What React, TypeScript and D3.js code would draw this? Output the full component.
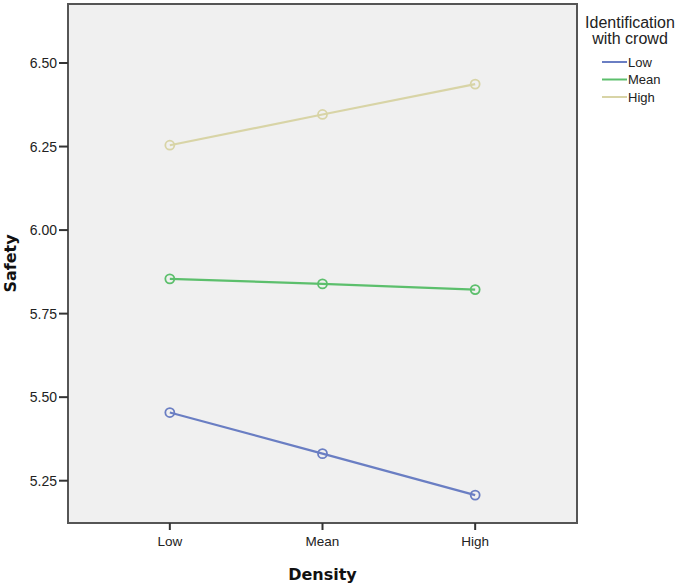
import React from "react";
import * as d3 from "d3";

const categories = ["Low", "Mean", "High"];
const seriesNames = ["Low", "Mean", "High"];
const lowValues = [5.454, 5.331, 5.207];
const meanValues = [5.854, 5.839, 5.822];
const highValues = [6.254, 6.346, 6.437];
const yTicks = [5.25, 5.5, 5.75, 6.0, 6.25, 6.5];
const colors = ["#6a7ec3", "#5cbf6c", "#d8d4a6"];

const W = 680;
const H = 584;
const plot = { left: 68, top: 4, right: 577, bottom: 523 };

export default function App() {
  const x = d3
    .scalePoint<string>()
    .domain(categories)
    .range([plot.left, plot.right])
    .padding(0.667);
  const y = d3
    .scaleLinear()
    .domain([5.1234, 6.6766])
    .range([plot.bottom, plot.top]);

  const series = [lowValues, meanValues, highValues];
  const line = d3
    .line<number>()
    .x((_, i) => x(categories[i]) as number)
    .y((d) => y(d));

  const font = "'Liberation Sans', Arial, sans-serif";

  return (
    <svg
      width={W}
      height={H}
      style={{ position: "absolute", left: 0, top: 0, background: "#fff" }}
    >
      <rect
        x={plot.left}
        y={plot.top}
        width={plot.right - plot.left}
        height={plot.bottom - plot.top}
        fill="#f0f0f0"
        stroke="#555"
        strokeWidth={2}
      />
      {yTicks.map((t) => (
        <g key={t}>
          <line
            x1={plot.left - 9}
            x2={plot.left}
            y1={y(t)}
            y2={y(t)}
            stroke="#333"
            strokeWidth={2}
          />
          <text
            x={plot.left - 11}
            y={y(t)}
            dy="0.36em"
            textAnchor="end"
            fontFamily={font}
            fontSize={14}
            fill="#222"
          >
            {d3.format(".2f")(t)}
          </text>
        </g>
      ))}
      {categories.map((c) => (
        <g key={c}>
          <line
            x1={x(c)}
            x2={x(c)}
            y1={plot.bottom}
            y2={plot.bottom + 7}
            stroke="#333"
            strokeWidth={2}
          />
          <text
            x={x(c)}
            y={546}
            textAnchor="middle"
            fontFamily={font}
            fontSize={13.5}
            fill="#222"
          >
            {c}
          </text>
        </g>
      ))}
      {series.map((vals, si) => (
        <g key={si}>
          <path
            d={line(vals) || ""}
            fill="none"
            stroke={colors[si]}
            strokeWidth={2.2}
          />
          {vals.map((v, i) => (
            <circle
              key={i}
              cx={x(categories[i])}
              cy={y(v)}
              r={4.5}
              fill="none"
              stroke={colors[si]}
              strokeWidth={1.8}
            />
          ))}
        </g>
      ))}
      <text
        x={(plot.left + plot.right) / 2}
        y={580}
        textAnchor="middle"
        fontFamily="'DejaVu Sans', Verdana, sans-serif"
        fontWeight="bold"
        fontSize={16}
        fill="#111"
      >
        Density
      </text>
      <text
        transform={`translate(16, ${(plot.top + plot.bottom) / 2}) rotate(-90)`}
        textAnchor="middle"
        fontFamily="'DejaVu Sans', Verdana, sans-serif"
        fontWeight="bold"
        fontSize={16}
        fill="#111"
      >
        Safety
      </text>
      <text
        x={630}
        y={28}
        textAnchor="middle"
        fontFamily={font}
        fontSize={16}
        fill="#222"
      >
        Identification
      </text>
      <text
        x={630}
        y={44}
        textAnchor="middle"
        fontFamily={font}
        fontSize={16}
        fill="#222"
      >
        with crowd
      </text>
      {seriesNames.map((s, i) => (
        <g key={s}>
          <line
            x1={602}
            x2={627}
            y1={62 + i * 17.5}
            y2={62 + i * 17.5}
            stroke={colors[i]}
            strokeWidth={2}
          />
          <text
            x={628}
            y={62 + i * 17.5}
            dy="0.36em"
            fontFamily={font}
            fontSize={13}
            fill="#222"
          >
            {s}
          </text>
        </g>
      ))}
    </svg>
  );
}
